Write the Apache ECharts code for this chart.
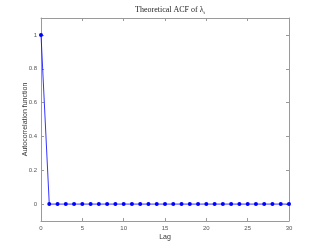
<!DOCTYPE html>
<html><head><meta charset="utf-8">
<script src="https://cdn.jsdelivr.net/npm/echarts@6/dist/echarts.min.js"></script>
<style>html,body{margin:0;padding:0;background:#fff}#c{width:319px;height:249px}</style>
</head><body><div id="c"></div>
<script>
const lags = [0,1,2,3,4,5,6,7,8,9,10,11,12,13,14,15,16,17,18,19,20,21,22,23,24,25,26,27,28,29,30];
const acf  = [1,0,0,0,0,0,0,0,0,0,0,0,0,0,0,0,0,0,0,0,0,0,0,0,0,0,0,0,0,0,0];
const xTicks = [0,5,10,15,20,25,30];
const titleText = 'Theoretical ACF of ';
const xName = 'Lag';
const yName = 'Autocorrelation function';

const chart = echarts.init(document.getElementById('c'), null, {renderer:'canvas'});
const axisCol = '#9a9a9a';
const labCol = '#555';
function common(){ return {
  axisLine:{show:true,onZero:false,lineStyle:{color:axisCol,width:1}},
  axisTick:{show:true,inside:true,length:3,lineStyle:{color:axisCol}},
  splitLine:{show:false}
};}
const rs = {fontFamily:'Liberation Serif',fontSize:8,color:'#222',fontWeight:'normal'};
chart.setOption({
  animation:false,
  title:{
    text:'{a|'+titleText+'λ}{s|t}',
    left:165, textAlign:'center', top:0,
    textStyle:{fontWeight:'normal',rich:{
      a:rs,
      s:{fontFamily:'Liberation Serif',fontSize:5,color:'#222',fontWeight:'normal',padding:[5,0,0,0]}
    }}
  },
  grid:{left:41,right:30,top:18,bottom:28,containLabel:false},
  xAxis:[
    Object.assign({type:'value',min:0,max:30,interval:5,position:'bottom',
      name:xName,nameLocation:'middle',nameGap:13,nameMoveOverlap:false,
      nameTextStyle:{fontSize:7,color:'#333',fontFamily:'Liberation Sans'},
      axisLabel:{fontSize:6,color:labCol,margin:4,fontFamily:'Liberation Sans'}},common()),
    Object.assign({type:'value',min:0,max:30,interval:5,position:'top',axisLabel:{show:false}},common())
  ],
  yAxis:[
    Object.assign({type:'value',min:-0.1,max:1.1,splitNumber:6,position:'left',
      name:yName,nameLocation:'middle',nameGap:12,nameMoveOverlap:false,
      nameTextStyle:{fontSize:7,color:'#333',fontFamily:'Liberation Sans'},
      axisLabel:{fontSize:6,color:labCol,margin:4,fontFamily:'Liberation Sans',showMinLabel:false,showMaxLabel:false,
        formatter:v=>(Math.abs(v+0.1)<1e-9||Math.abs(v-1.1)<1e-9)?'':String(Math.round(v*10)/10)}},common()),
    Object.assign({type:'value',min:-0.1,max:1.1,splitNumber:6,position:'right',axisLabel:{show:false}},common())
  ],
  series:[{
    type:'line',
    data:lags.map((l,i)=>[l,acf[i]]),
    symbol:'circle',symbolSize:4,
    lineStyle:{color:'#0000ff',width:0.8},
    itemStyle:{color:'#0000ff'},
    xAxisIndex:0,yAxisIndex:0
  }]
});
</script></body></html>
